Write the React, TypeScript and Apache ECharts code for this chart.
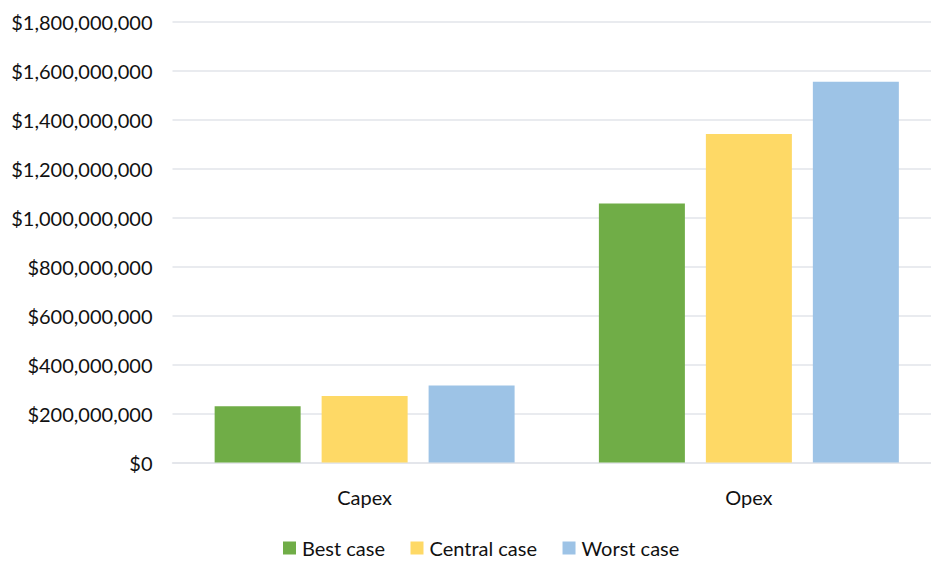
import React, { useEffect, useRef } from "react";
import * as echarts from "echarts";

const categories = ["Capex", "Opex"];
const bestCase = [230000000, 1058000000];
const centralCase = [272000000, 1342000000];
const worstCase = [315000000, 1556000000];
const seriesNames = ["Best case", "Central case", "Worst case"];
const colors = ["#70ad47", "#fed966", "#9dc3e6"];

const FONT = "Lato";

export default function App() {
  const ref = useRef<HTMLDivElement>(null);
  useEffect(() => {
    if (!ref.current) return;
    const chart = echarts.init(ref.current, undefined, { renderer: "svg" });
    const values = [bestCase, centralCase, worstCase];
    chart.setOption({
      animation: false,
      backgroundColor: "#ffffff",
      textStyle: { fontFamily: FONT },
      grid: { left: 172.5, top: 22, right: 0, bottom: 100.5, containLabel: false },
      legend: {
        bottom: 0,
        left: 278,
        itemWidth: 13,
        itemHeight: 13,
        itemGap: 25.5,
        icon: "rect",
        textStyle: { fontFamily: FONT, fontSize: 20, color: "#111111", padding: [0, 0, 0, 1] },
        data: seriesNames,
      },
      xAxis: {
        type: "category",
        data: categories,
        axisLine: { lineStyle: { color: "#e2e5ea", width: 1.5 } },
        axisTick: { show: false },
        axisLabel: { fontFamily: FONT, fontSize: 20, color: "#111111", margin: 24 },
      },
      yAxis: {
        type: "value",
        min: 0,
        max: 1800000000,
        interval: 200000000,
        axisLine: { show: false },
        axisTick: { show: false },
        splitLine: { lineStyle: { color: "#e2e5ea", width: 1.5 } },
        axisLabel: {
          fontFamily: FONT,
          fontSize: 20,
          color: "#111111",
          margin: 20,
          formatter: (v: number) => "$" + v.toLocaleString("en-US"),
        },
      },
      series: seriesNames.map((name, i) => ({
        name,
        type: "bar",
        data: values[i],
        barWidth: 86,
        barGap: "24.4%",
        itemStyle: { color: colors[i] },
      })),
    });
    return () => chart.dispose();
  }, []);
  return (
    <div
      style={{ position: "fixed", left: 0, top: 0, width: 931, height: 563, overflow: "hidden", background: "#ffffff" }}
    >
      <div ref={ref} style={{ width: 941, height: 563 }} />
    </div>
  );
}
